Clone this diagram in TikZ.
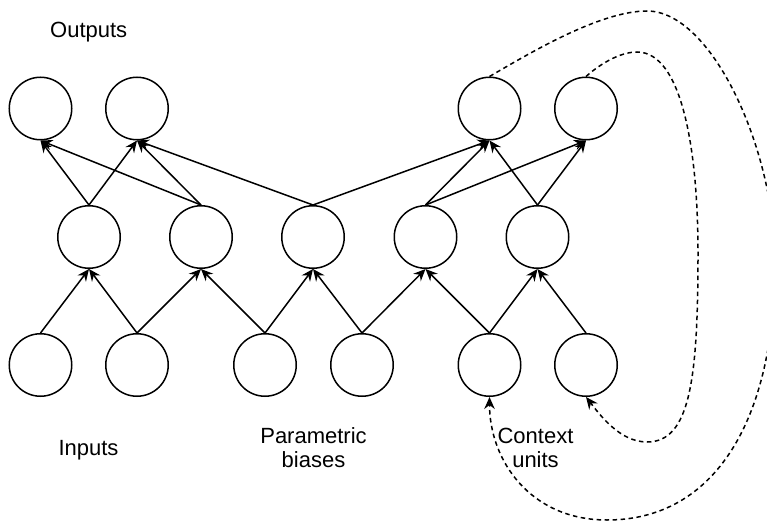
\documentclass[tikz,border=0pt]{standalone}
\usepackage{fontspec}
\setmainfont{Liberation Sans}
\usetikzlibrary{arrows.meta}
\begin{document}
\begin{tikzpicture}[x=1pt,y=-1pt,
  unit/.style={draw,circle,line width=1.5pt,minimum size=62.5pt,inner sep=0pt},
  link/.style={line width=1.5pt,-{Stealth[length=12pt,width=10.5pt,inset=4pt]}},
  feedback/.style={link,dash pattern=on 4.5pt off 3.5pt},
  caption/.style={font=\fontsize{22}{24}\selectfont,align=center,anchor=base,inner sep=0pt}]
\useasboundingbox (0,0) rectangle (767,521);

% output layer
\node[unit] (o1) at (40.5,108.5) {};
\node[unit] (o2) at (137,108.5) {};
\node[unit] (o3) at (489.5,108.5) {};
\node[unit] (o4) at (586,108.5) {};

% hidden layer
\node[unit] (h1) at (89,237) {};
\node[unit] (h2) at (201,237) {};
\node[unit] (h3) at (313,237) {};
\node[unit] (h4) at (425.5,237) {};
\node[unit] (h5) at (537.5,237) {};

% input layer
\node[unit] (i1) at (40.5,365) {};
\node[unit] (i2) at (137,365) {};
\node[unit] (i3) at (265,365) {};
\node[unit] (i4) at (362,365) {};
\node[unit] (i5) at (489.5,365) {};
\node[unit] (i6) at (586,365) {};

% labels (base anchor sits on the last line)
\node[caption] (lout) at (88.7,37.3) {Outputs};
\node[caption] (lin) at (88.5,455) {Inputs};
\node[caption] (lpb) at (313.5,467) {Parametric\\biases};
\node[caption] (lcu) at (535.5,467) {Context\\units};

% input -> hidden
\foreach \s/\t in {i1/h1,i2/h1,i2/h2,i3/h2,i3/h3,i4/h3,i4/h4,i5/h4,i5/h5,i6/h5}
  \draw[link] (\s.north) -- (\t.south);

% hidden -> output
\foreach \s/\t in {h1/o1,h1/o2,h2/o1,h2/o2,h3/o2,h3/o3,h4/o3,h4/o4,h5/o3,h5/o4}
  \draw[link] (\s.north) -- (\t.south);

% recurrent context loops
\draw[feedback] (o3.north) .. controls (530,53) and (600,11) .. (647,11)
  .. controls (712,11) and (775,150) .. (775,262)
  .. controls (775,420) and (715,520) .. (607,520)
  .. controls (530,520) and (489.5,460) .. (i5.south);
\draw[feedback] (o4.north) .. controls (600,64) and (620,52) .. (637,52)
  .. controls (682,52) and (698,150) .. (698,253)
  .. controls (698,380) and (690,442) .. (647,442)
  .. controls (620,442) and (600,415) .. (i6.south);
\end{tikzpicture}
\end{document}
